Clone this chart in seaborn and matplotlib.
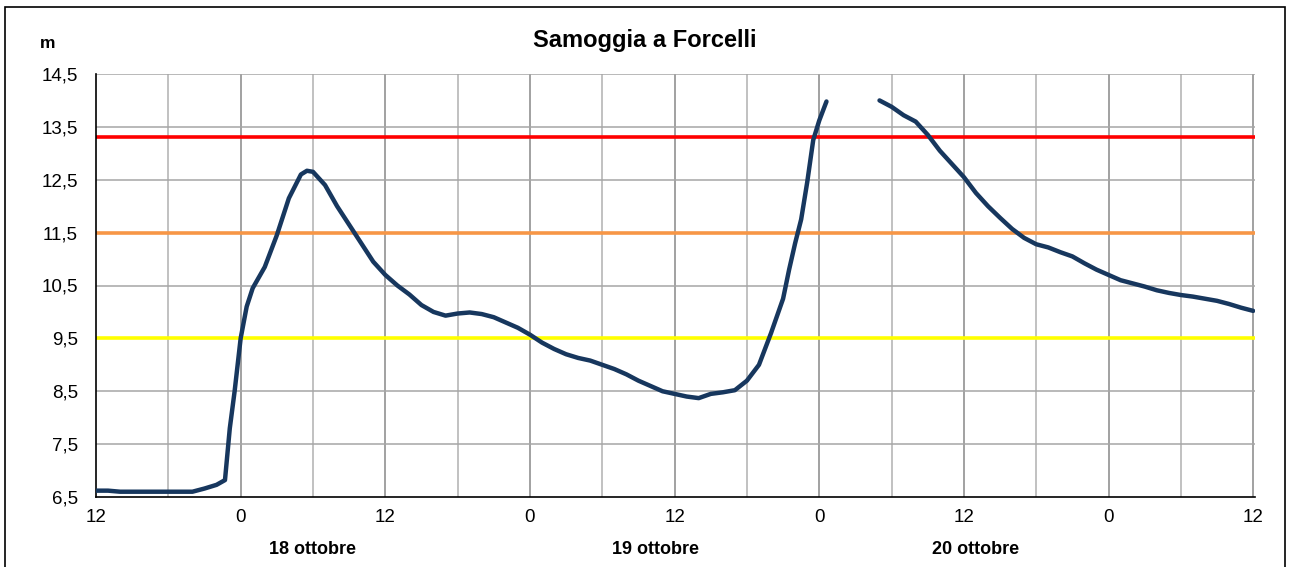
import numpy as np
import pandas as pd
import matplotlib
matplotlib.use("Agg")
import matplotlib.pyplot as plt
import seaborn as sns

# hours counted from 17 ottobre 12:00
hours_a = [0, 1, 2, 3, 4, 5, 6, 7, 8, 9, 10, 10.7, 11.1, 11.5, 12, 12.5, 13, 14, 15, 16,
           17, 17.5, 18, 19, 20, 21, 22, 23, 24, 25, 26, 27, 28, 29, 30, 31, 32, 33, 34,
           35, 36, 37, 38, 39, 40, 41, 42, 43, 44, 45, 46, 47, 48, 49, 50, 51, 52, 53,
           54, 55, 56, 57, 57.5, 58, 58.5, 59, 59.5, 60, 60.6]
level_a = [6.62, 6.62, 6.6, 6.6, 6.6, 6.6, 6.6, 6.6, 6.6, 6.66, 6.73, 6.82, 7.8, 8.5,
           9.5, 10.1, 10.45, 10.85, 11.45, 12.15, 12.6, 12.67, 12.65, 12.4, 12.0, 11.65,
           11.3, 10.95, 10.7, 10.5, 10.33, 10.13, 10.0, 9.93, 9.97, 9.99, 9.96, 9.9, 9.8,
           9.7, 9.57, 9.42, 9.3, 9.2, 9.13, 9.08, 9.0, 8.92, 8.82, 8.7, 8.6, 8.5, 8.45,
           8.4, 8.37, 8.45, 8.48, 8.52, 8.7, 9.0, 9.6, 10.25, 10.8, 11.3, 11.75, 12.45,
           13.25, 13.62, 13.98]

hours_b = [65, 66, 67, 68, 69, 70, 71, 72, 73, 74, 75, 76, 77, 78, 79, 80, 81, 82, 83,
           84, 85, 86, 87, 88, 89, 90, 91, 92, 93, 94, 95, 96]
level_b = [14.0, 13.88, 13.72, 13.6, 13.35, 13.05, 12.8, 12.55, 12.25, 12.0, 11.78,
           11.57, 11.4, 11.28, 11.22, 11.13, 11.05, 10.92, 10.8, 10.7, 10.6, 10.54,
           10.48, 10.41, 10.36, 10.32, 10.29, 10.25, 10.21, 10.15, 10.08, 10.02]

thresholds = [13.3, 11.5, 9.5]
threshold_colors = ["#FF0000", "#F79646", "#FFFF00"]

x_labels = ["12", "0", "12", "0", "12", "0", "12", "0", "12"]
y_ticks = [6.5, 7.5, 8.5, 9.5, 10.5, 11.5, 12.5, 13.5, 14.5]
days = ["18 ottobre", "19 ottobre", "20 ottobre"]
day_pos = [18, 46.4, 73]

df = pd.concat([
    pd.DataFrame({"ora": hours_a, "livello": level_a, "tratto": "a"}),
    pd.DataFrame({"ora": hours_b, "livello": level_b, "tratto": "b"}),
])

sns.set_style("white")
plt.rcParams["font.family"] = ["Liberation Sans", "DejaVu Sans"]
plt.rcParams["text.color"] = "black"

fig = plt.figure(figsize=(12.9, 5.67), dpi=100)
ax = fig.add_axes([96 / 1290, 70 / 567, 1159 / 1290, 423 / 567])

# outer frame of the chart
fig.patches.append(plt.Rectangle((5 / 1290, -0.05), 1280 / 1290, 1.05 - 7 / 567,
                                 transform=fig.transFigure, fill=False,
                                 edgecolor="black", linewidth=1.2))

# grid
for h in range(6, 97, 6):
    ax.axvline(h, color="#888888" if h % 12 == 0 else "#B0B0B0", lw=1.1, zorder=0)
for v in y_ticks[1:]:
    ax.axhline(v, color="#A6A6A6", lw=1.1, zorder=0)

for v, c in zip(thresholds, threshold_colors):
    ax.axhline(v, color=c, lw=2.6, zorder=1)

sns.lineplot(data=df, x="ora", y="livello", units="tratto", estimator=None,
             color="#17375E", lw=3.2, ax=ax, zorder=3)

ax.set_xlim(0, 96.15)
ax.set_ylim(6.5, 14.5)
ax.set_xticks(range(0, 97, 12))
ax.set_xticklabels(x_labels)
ax.set_xticks(range(6, 97, 12), minor=True)
ax.set_yticks(y_ticks)
ax.set_yticklabels([str(v).replace(".", ",") for v in y_ticks])
ax.tick_params(axis="both", which="both", direction="inout", length=8, width=1,
               colors="black", labelsize=13.5)
ax.tick_params(axis="x", pad=5)
ax.tick_params(axis="y", pad=9)
ax.set_xlabel("")
ax.set_ylabel("")

for s in ["top", "right"]:
    ax.spines[s].set_visible(False)
for s in ["left", "bottom"]:
    ax.spines[s].set_color("black")
    ax.spines[s].set_linewidth(1.2)

fig.text(645 / 1290, 1 - 40 / 567, "Samoggia a Forcelli", ha="center", va="center",
         fontsize=17, fontweight="bold")
fig.text(48 / 1290, 1 - 43 / 567, "m", ha="center", va="center",
         fontsize=12.5, fontweight="bold")
for d, p in zip(days, day_pos):
    ax.text(p, -0.125, d, transform=ax.get_xaxis_transform(), ha="center",
            va="center", fontsize=13, fontweight="bold")

fig.savefig("out.png", dpi=100)
